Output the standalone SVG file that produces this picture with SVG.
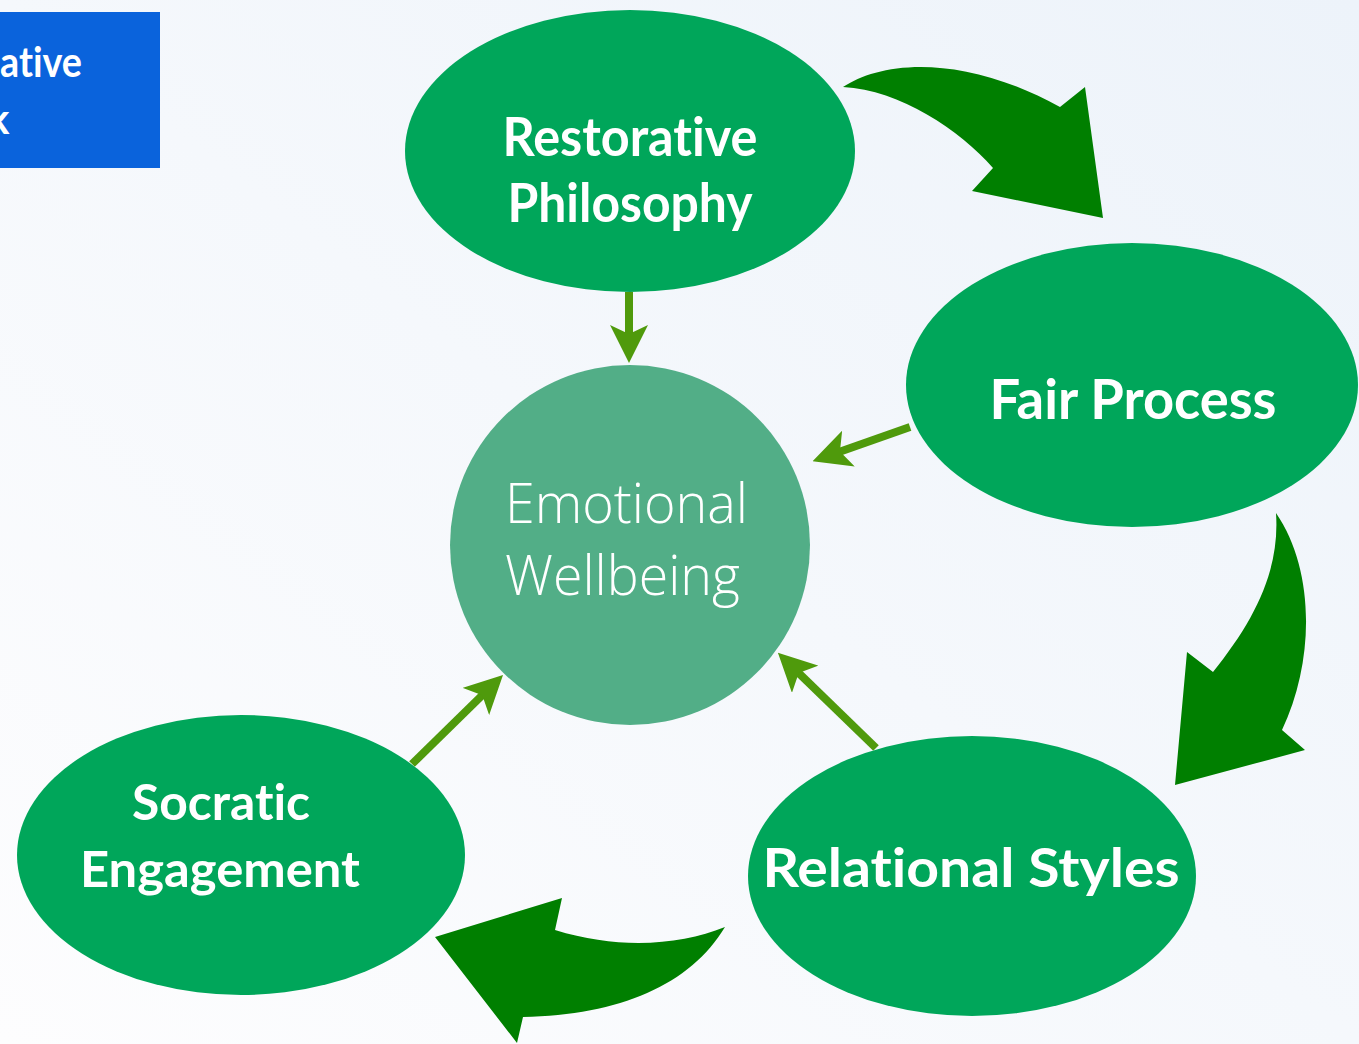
<svg xmlns="http://www.w3.org/2000/svg" width="1359" height="1044" viewBox="0 0 1359 1044">
  <defs>
    <linearGradient id="bg" x1="1" y1="0" x2="0" y2="1">
      <stop offset="0" stop-color="#edf3fa"/>
      <stop offset="1" stop-color="#fdfdfe"/>
    </linearGradient>
    <marker id="head" markerUnits="userSpaceOnUse" viewBox="0 0 38 38" markerWidth="38" markerHeight="38" refX="10" refY="19" orient="auto">
      <path d="M0,0 L38,19 L0,38 L9,19 Z" fill="#4f9a0c"/>
    </marker>
  </defs>
  <style>
    text { font-variant-ligatures: none; }
    .node { fill: #00a65a; }
    .hub { fill: #52ae87; }
    .lbl { font-family: Lato, "Open Sans", "Liberation Sans", sans-serif; font-weight: 700; fill: #ffffff; text-anchor: middle; }
    .hubtxt { font-family: "Open Sans", Lato, "Liberation Sans", sans-serif; font-weight: 300; fill: #ffffff; font-size: 56px; }
    .flow { fill: #007f00; }
    .link { stroke: #4f9a0c; stroke-width: 8; fill: none; marker-end: url(#head); }
  </style>

  <rect x="0" y="0" width="1359" height="1044" fill="url(#bg)"/>

  <!-- title tab, cut by the left edge -->
  <g id="title">
    <rect x="-10" y="12" width="170" height="156" fill="#0a63dc"/>
    <text x="0" y="77" font-family="Lato, 'Liberation Sans', sans-serif" font-weight="700" font-size="42" fill="#ffffff" textLength="82" lengthAdjust="spacingAndGlyphs">ative</text>
    <text x="-13" y="134" font-family="Lato, 'Liberation Sans', sans-serif" font-weight="700" font-size="42" fill="#ffffff">k</text>
  </g>

  <!-- connectors -->
  <g id="connectors">
    <path class="flow" d="M843,87 C880,62 960,52 1060,107 L1085,87 L1103,218 L972,191 L993,168 C960,130 900,90 843,87 Z"/>
    <path class="flow" d="M1276,513 C1315,570 1315,660 1282,730 L1305,750 L1175,785 L1187,652 L1213,672 C1255,620 1280,570 1276,513 Z"/>
    <path class="flow" d="M725,927 C690,985 620,1015 523,1017 L517,1043 L435,937 L562,898 L555,930 C620,950 680,945 725,927 Z"/>
    <line class="link" x1="629" y1="292" x2="629" y2="335"/>
    <line class="link" x1="910" y1="427" x2="839" y2="451.9"/>
    <line class="link" x1="876" y1="748" x2="798" y2="672.3"/>
    <line class="link" x1="412" y1="764" x2="483" y2="694.5"/>
  </g>

  <g id="restorative-philosophy">
    <ellipse class="node" cx="630" cy="151" rx="225" ry="141"/>
    <text class="lbl" x="630" y="156" font-size="54" textLength="255" lengthAdjust="spacingAndGlyphs">Restorative</text>
    <text class="lbl" x="630" y="222" font-size="54" textLength="245" lengthAdjust="spacingAndGlyphs">Philosophy</text>
  </g>

  <g id="fair-process">
    <ellipse class="node" cx="1132" cy="385" rx="226" ry="142"/>
    <text class="lbl" x="1133" y="419" font-size="55" textLength="287" lengthAdjust="spacingAndGlyphs">Fair Process</text>
  </g>

  <g id="relational-styles">
    <ellipse class="node" cx="972" cy="876" rx="224" ry="140"/>
    <text class="lbl" x="971" y="887" font-size="54" textLength="417" lengthAdjust="spacingAndGlyphs">Relational Styles</text>
  </g>

  <g id="socratic-engagement">
    <ellipse class="node" cx="241" cy="855" rx="224" ry="140"/>
    <text class="lbl" x="221" y="820" font-size="50" textLength="178" lengthAdjust="spacingAndGlyphs">Socratic</text>
    <text class="lbl" x="220" y="887" font-size="50" textLength="280" lengthAdjust="spacingAndGlyphs">Engagement</text>
  </g>

  <g id="emotional-wellbeing">
    <circle class="hub" cx="630" cy="545" r="180"/>
    <text class="hubtxt" x="505" y="523" textLength="243" lengthAdjust="spacingAndGlyphs">Emotional</text>
    <text class="hubtxt" x="505" y="595" textLength="235" lengthAdjust="spacingAndGlyphs">Wellbeing</text>
  </g>
</svg>
